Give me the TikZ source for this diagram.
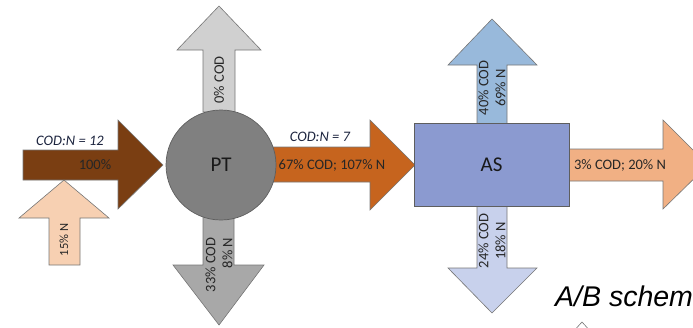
\documentclass[tikz,border=0pt]{standalone}
\usepackage{fontspec}
\setmainfont{Carlito}
\newfontfamily\headfont{Liberation Sans}
\usepackage{tikz}
\usetikzlibrary{positioning}
\definecolor{rawbrown}{RGB}{122, 62, 18}
\definecolor{ptorange}{RGB}{198, 100, 30}
\definecolor{nitropeach}{RGB}{247, 208, 178}
\definecolor{effpeach}{RGB}{241, 176, 132}
\definecolor{gaslight}{RGB}{208, 208, 208}
\definecolor{sludgegray}{RGB}{168, 168, 168}
\definecolor{ptgray}{RGB}{128, 128, 128}
\definecolor{asblue}{RGB}{139, 154, 208}
\definecolor{airblue}{RGB}{152, 185, 219}
\definecolor{wasblue}{RGB}{200, 209, 236}
\definecolor{edgegray}{RGB}{118, 118, 118}
\definecolor{labelnavy}{RGB}{28, 36, 62}

\begin{document}
\begin{tikzpicture}[
  x=1pt, y=-1pt,
  blockarrow/.style={draw=edgegray, line width=0.6pt, line join=miter},
  unit/.style={draw=edgegray!80!black, line width=0.7pt, text=black!90,
               font=\fontsize{21}{24}\selectfont},
  flow/.style={inner sep=0pt, text=black!85,
               font=\fontsize{14.5}{17}\selectfont},
  vflow/.style={flow, rotate=90, align=center},
  ratio/.style={inner sep=0pt, text=labelnavy,
                font=\fontsize{14.5}{17}\selectfont\itshape}
]
  \useasboundingbox (0,0) rectangle (693,327);
  \clip (0,0) rectangle (693,327);

  % --- Block arrows ---
  % influent
  \draw[blockarrow, fill=rawbrown] (23,150) -- (118,150) -- (118,120)
    -- (163,165) -- (118,209) -- (118,180) -- (23,180) -- cycle;
  \draw[blockarrow, fill=nitropeach] (49,265) -- (49,218) -- (19,218)
    -- (64,180) -- (109,218) -- (80,218) -- (80,265) -- cycle;
  % PT outputs
  \draw[blockarrow, fill=gaslight] (203,112) -- (203,50) -- (177,50)
    -- (219,6) -- (261,50) -- (235,50) -- (235,112) -- cycle;
  \draw[blockarrow, fill=sludgegray] (203,214) -- (203,265) -- (173,265)
    -- (219,325) -- (264,265) -- (234,265) -- (234,214) -- cycle;
  \draw[blockarrow, fill=ptorange] (268,147) -- (370,147) -- (370,120)
    -- (415,165) -- (370,210) -- (370,182) -- (268,182) -- cycle;
  % AS outputs
  \draw[blockarrow, fill=airblue] (477,125) -- (477,65) -- (448,65)
    -- (492,19) -- (537,65) -- (507,65) -- (507,125) -- cycle;
  \draw[blockarrow, fill=wasblue] (477,204) -- (477,268) -- (448,268)
    -- (492,313) -- (537,268) -- (507,268) -- (507,204) -- cycle;
  \draw[blockarrow, fill=effpeach] (566,149) -- (663,149) -- (663,120)
    -- (708,165) -- (663,209) -- (663,181) -- (566,181) -- cycle;

  % --- Units ---
  \node[unit, circle, fill=ptgray, minimum size=110pt, inner sep=0pt]
    (PT) at (221,165) {PT};
  \node[unit, rectangle, fill=asblue, minimum width=155pt,
        minimum height=83pt, inner sep=0pt] (AS) at (491.5,164.5) {AS};

  % --- Labels ---
  \node[ratio] (rin) at (70,141) {COD:N = 12};
  \node[flow] (fin) at (95,165) {100\%};
  \node[vflow, font=\fontsize{12.5}{15}\selectfont] (nin) at (64,240) {15\% N};
  \node[vflow] (fgas) at (219,80) {0\% COD};
  \node[vflow, align=right] (fsl) at (219,265) {33\% COD\\8\% N};
  \node[ratio] (rpt) at (320,137) {COD:N = 7};
  \node[flow] (fpt) at (332,165) {67\% COD; 107\% N};
  \node[vflow] (fair) at (492,88) {40\% COD\\69\% N};
  \node[vflow] (fwas) at (492,241) {24\% COD\\18\% N};
  \node[flow] (feff) at (620,165) {3\% COD; 20\% N};

  % --- Caption ---
  \node[anchor=base west, inner sep=0pt,
        font=\headfont\fontsize{28.5}{32}\selectfont\itshape]
    (cap) at (555,306) {A/B schem};
  \draw[edgegray, line width=0.6pt, fill=white]
    (572,333) -- (582,322) -- (592,333);
\end{tikzpicture}
\end{document}
